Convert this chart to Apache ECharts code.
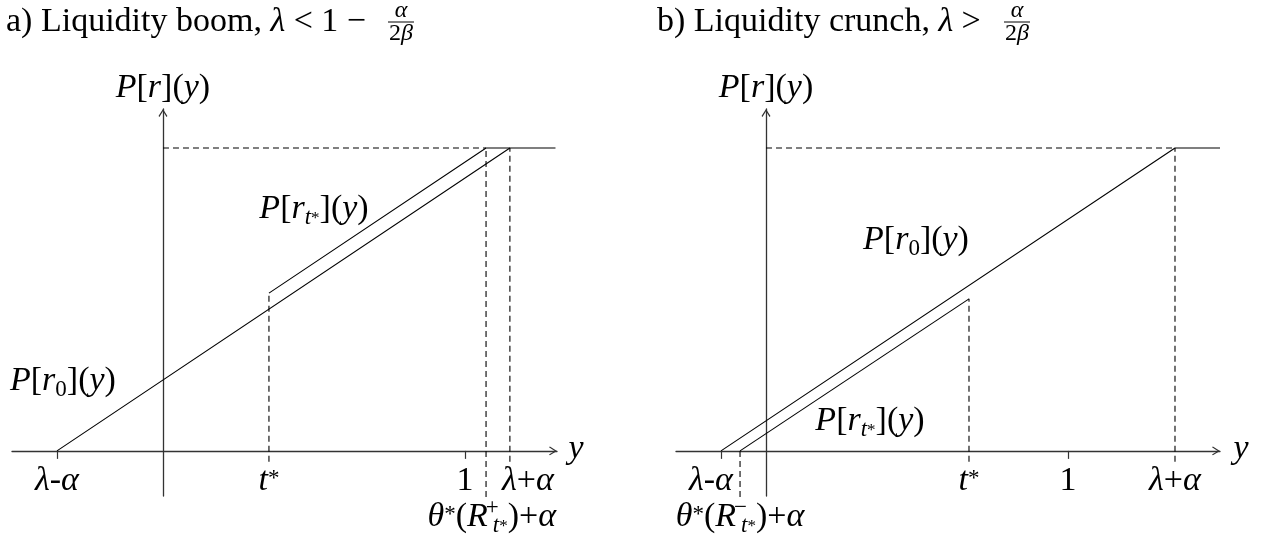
<!DOCTYPE html>
<html>
<head>
<meta charset="utf-8">
<script src="https://cdn.jsdelivr.net/npm/echarts@6/dist/echarts.min.js"></script>
<style>
html, body { margin: 0; padding: 0; background: #fff; }
#main { width: 1286px; height: 543px; }
</style>
</head>
<body>
<div id="main"></div>
<script>
// a) liquidity boom  -- x positions of the marked points: λ-α, t*, θ*(R+)+α, λ+α
var boomMarks = [-0.351, 0.351, 1.070, 1.149];
var boomR0 = [[-0.351, 0], [1.149, 1], [1.30, 1]];
var boomRt = [[0.351, 0.521], [1.070, 1], [1.149, 1]];
// b) liquidity crunch -- λ-α, θ*(R-)+α, t*, λ+α
var crunchMarks = [-0.149, -0.086, 0.672, 1.354];
var crunchR0 = [[-0.149, 0], [1.354, 1], [1.503, 1]];
var crunchRt = [[-0.086, 0], [0.672, 0.502]];
var unitTick = 1;

var F = 'Liberation Serif';
var chart = echarts.init(document.getElementById('main'));

var arrow = 'path://M5,0 L10,8 L9,9 L5,2.6 L1,9 L0,8 Z';

function xAx(gi, min, max, ticks) {
    return {
        type: 'value', gridIndex: gi, min: min, max: max,
        axisLine: { show: true, onZero: true, symbol: ['none', arrow], symbolSize: [9, 8], symbolOffset: [0, -4],
            lineStyle: { color: '#333', width: 1.3 } },
        axisTick: { show: true, customValues: ticks, length: 8, lineStyle: { color: '#333', width: 1.2 } },
        axisLabel: { show: false },
        splitLine: { show: false }
    };
}
function yAx(gi) {
    return {
        type: 'value', gridIndex: gi, min: -0.149, max: 1.129,
        axisLine: { show: true, onZero: true, symbol: ['none', arrow], symbolSize: [9, 8], symbolOffset: [0, -4],
            lineStyle: { color: '#333', width: 1.3 } },
        axisTick: { show: false },
        axisLabel: { show: false },
        splitLine: { show: false }
    };
}
function solid(data, gi) {
    return { type: 'line', xAxisIndex: gi, yAxisIndex: gi, data: data, symbol: 'none', silent: true, clip: false,
        lineStyle: { color: '#000', width: 1.1 } };
}
function dashed(data, gi) {
    return { type: 'line', xAxisIndex: gi, yAxisIndex: gi, data: data, symbol: 'none', silent: true, clip: false,
        lineStyle: { color: '#000', width: 1.1, type: [6, 4] } };
}

var below = -0.036;
var deep = -0.152;

chart.setOption({
    animation: false,
    grid: [
        { left: 12, top: 109, width: 545, height: 387 },
        { left: 676, top: 109, width: 544, height: 387 }
    ],
    xAxis: [xAx(0, -0.5, 1.305, [boomMarks[0], unitTick]), xAx(1, -0.298, 1.503, [crunchMarks[0], unitTick])],
    yAxis: [yAx(0), yAx(1)],
    series: [
        solid(boomR0, 0),
        solid(boomRt, 0),
        dashed([[0, 1], [boomMarks[2], 1]], 0),
        dashed([[boomMarks[1], below], [boomMarks[1], boomRt[0][1]]], 0),
        dashed([[boomMarks[2], deep], [boomMarks[2], 1]], 0),
        dashed([[boomMarks[3], below], [boomMarks[3], 1]], 0),

        solid(crunchR0, 1),
        solid(crunchRt, 1),
        dashed([[0, 1], [crunchMarks[3], 1]], 1),
        dashed([[crunchMarks[1], deep], [crunchMarks[1], 0]], 1),
        dashed([[crunchMarks[2], below], [crunchMarks[2], crunchRt[1][1]]], 1),
        dashed([[crunchMarks[3], below], [crunchMarks[3], 1]], 1)
    ]
});

// text: every token is 42px tall so the vertical place is set by the top padding only
var H = 42;
function st(size, italic, lh, padTop, extra) {
    var s = { fontFamily: F, fontSize: size, fontStyle: italic ? 'italic' : 'normal', lineHeight: lh,
        padding: [padTop, 0, H - lh - padTop, 0], fill: '#000' };
    for (var k in extra) s[k] = extra[k];
    return s;
}
var rich = {
    i: st(34, true, 42, 0),
    u: st(34, false, 42, 0),
    si: st(23, true, 23, 18),
    su: st(23, false, 23, 18),
    sp: st(23, false, 23, 7),
    ss: st(17, false, 17, 22),
    pm: st(23, false, 23, 0, { width: 1, align: 'left' }),
    fi: { fontFamily: F, fontSize: 24, fontStyle: 'italic', lineHeight: 24, fill: '#000' },
    fu: { fontFamily: F, fontSize: 24, lineHeight: 24, fill: '#000' }
};
rich.pm.padding = [0, 0, H - 23, 4];

function txt(x, y, s, align) {
    return { type: 'text', x: x, y: y, silent: true,
        style: { text: s, rich: rich, align: align || 'center', textAlign: align || 'center',
            verticalAlign: 'middle', textVerticalAlign: 'middle', fill: '#000' } };
}
function px(gi, v) {
    return chart.convertToPixel({ gridIndex: gi }, [v, 0])[0];
}

var PR = '{i|P}{u|[}{i|r}{u|]}{u|(}{i|y}{u|)}';
var PR0 = '{i|P}{u|[}{i|r}{su|0}{u|]}{u|(}{i|y}{u|)}';
var PRt = '{i|P}{u|[}{i|r}{si|t}{ss|*}{u|]}{u|(}{i|y}{u|)}';
var LM = '{i|λ}{u|-}{i|α}';
var LP = '{i|λ}{u|+}{i|α}';
var TS = '{i|t}{sp|*}';
var THp = '{i|θ}{sp|*}{u|(}{i|R}{pm|+}{si|t}{ss|*}{u|)+}{i|α}';
var THm = '{i|θ}{sp|*}{u|(}{i|R}{pm|−}{si|t}{ss|*}{u|)+}{i|α}';

var row1 = 481, row2 = 517;
var g = [
    txt(6, 22, '{u|a) Liquidity boom, }{i|λ}{u| < 1 − }', 'left'),
    txt(401, 11, '{fi|α}'),
    { type: 'line', shape: { x1: 388, y1: 22, x2: 414, y2: 22 }, style: { stroke: '#000', lineWidth: 1 } },
    txt(401, 34, '{fu|2}{fi|β}'),
    txt(657, 22, '{u|b) Liquidity crunch, }{i|λ}{u| > }', 'left'),
    txt(1017, 11, '{fi|α}'),
    { type: 'line', shape: { x1: 1004, y1: 22, x2: 1030, y2: 22 }, style: { stroke: '#000', lineWidth: 1 } },
    txt(1017, 34, '{fu|2}{fi|β}'),

    txt(px(0, 0), 88, PR),
    txt(px(1, 0), 88, PR),
    txt(10, 381, PR0, 'left'),
    txt(314, 209, PRt),
    txt(916, 240, PR0),
    txt(870, 421, PRt),

    txt(px(0, boomMarks[0]), row1, LM),
    txt(px(0, boomMarks[1]), row1, TS),
    txt(px(0, unitTick), row1, '{u|1}'),
    txt(px(0, boomMarks[3]) + 18, row1, LP),
    txt(556, row2, THp, 'right'),

    txt(px(1, crunchMarks[0]) - 10, row1, LM),
    txt(px(1, crunchMarks[1]), row2, THm),
    txt(px(1, crunchMarks[2]), row1, TS),
    txt(px(1, unitTick), row1, '{u|1}'),
    txt(px(1, crunchMarks[3]), row1, LP),

    txt(576, 449, '{i|y}'),
    txt(1241, 449, '{i|y}')
];
chart.setOption({ graphic: g });
</script>
</body>
</html>
